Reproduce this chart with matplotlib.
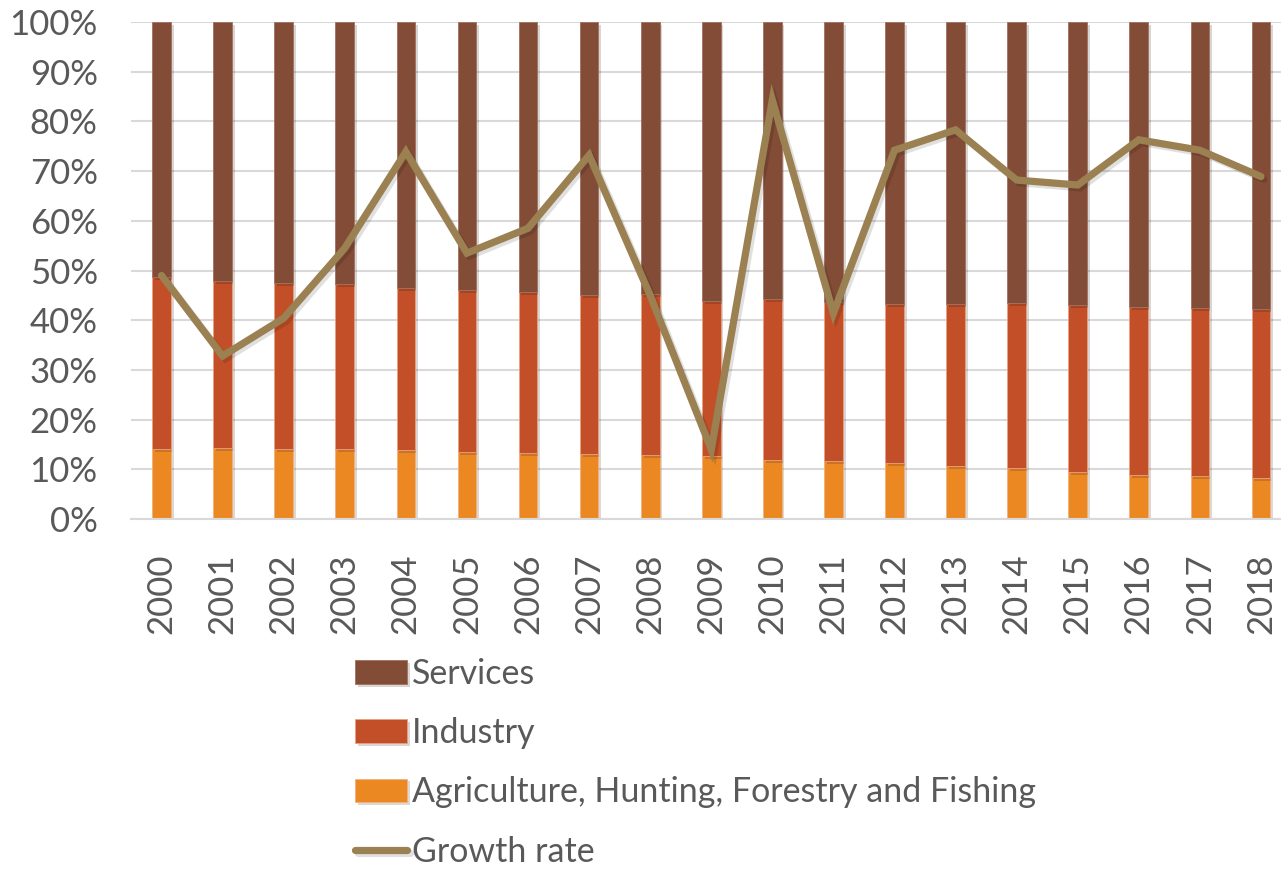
import numpy as np
import matplotlib.pyplot as plt
import matplotlib.patheffects as pe

# Datos (en %)
years = [str(y) for y in range(2000, 2019)]
agri = [14.0, 14.2, 14.1, 14.0, 13.8, 13.4, 13.2, 13.0, 12.8, 12.6,
        11.8, 11.6, 11.2, 10.6, 10.2, 9.5, 8.8, 8.6, 8.2]
# Tope acumulado de Industria (agri + industria)
ind_top = [48.6, 47.9, 47.5, 47.2, 46.4, 46.1, 45.6, 45.1, 45.3, 43.9,
           44.2, 43.6, 43.3, 43.3, 43.5, 43.1, 42.7, 42.5, 42.3]
growth = [49.0, 32.8, 40.4, 54.5, 73.9, 53.5, 58.5, 73.2, 45.0, 14.0,
          84.3, 41.4, 74.2, 78.3, 68.2, 67.2, 76.3, 74.2, 68.9]

agri = np.array(agri)
industry = np.array(ind_top) - agri
services = 100 - np.array(ind_top)

c_serv = '#834C36'
c_ind = '#C24F27'
c_agri = '#EC8822'
c_line = '#9B8052'
c_text = '#595959'

plt.rcParams['font.family'] = ['Lato', 'DejaVu Sans']

fig = plt.figure(figsize=(12.81, 8.72), dpi=100)
ax = fig.add_axes([131 / 1281, 1 - 519 / 872, 1160.5 / 1281, 497 / 872])

x = np.arange(len(years))
w = 0.306
sombra = [pe.SimplePatchShadow(offset=(2, -2), alpha=0.18), pe.Normal()]

b1 = ax.bar(x, agri, w, color=c_agri, edgecolor='#F2B080', linewidth=0.6,
            label='Agriculture, Hunting, Forestry and Fishing', zorder=2)
b2 = ax.bar(x, industry, w, bottom=agri, color=c_ind, edgecolor='#E8A080',
            linewidth=0.6, label='Industry', zorder=2)
b3 = ax.bar(x, services, w, bottom=agri + industry, color=c_serv,
            edgecolor='#A07060', linewidth=0.6, label='Services', zorder=2)
for bars in (b1, b2, b3):
    for p in bars:
        p.set_path_effects(sombra)

ln, = ax.plot(x, growth, color=c_line, lw=5.2, solid_joinstyle='miter',
              solid_capstyle='round', label='Growth rate', zorder=3,
              path_effects=[pe.SimpleLineShadow(offset=(2, -2), alpha=0.12),
                            pe.Normal()])

ax.set_xlim(-0.5, len(years) - 0.5)
ax.set_ylim(0, 100)
ax.set_yticks(np.arange(0, 101, 10))
ax.set_yticklabels([f'{v}%' for v in range(0, 101, 10)])
ax.set_xticks(x)
ax.set_xticklabels(years, rotation=90)
ax.tick_params(axis='both', length=0, labelsize=25, colors=c_text)
ax.tick_params(axis='y', pad=24)
ax.tick_params(axis='x', pad=25)
ax.grid(axis='y', color='#D9D9D9', lw=1.5, zorder=0)
ax.set_axisbelow(True)
for s in ['top', 'right', 'left']:
    ax.spines[s].set_visible(False)
ax.spines['bottom'].set_color('#D9D9D9')
ax.spines['bottom'].set_linewidth(1.5)

fig.legend(handles=[b3, b2, b1, ln], loc='upper left',
           bbox_to_anchor=(355 / 1281, 1 - 658 / 872), frameon=False,
           fontsize=24.5, labelcolor=c_text, handlelength=1.53,
           handletextpad=0.15, labelspacing=0.8, borderaxespad=0,
           borderpad=0)

fig.savefig('out.png', dpi=100)
